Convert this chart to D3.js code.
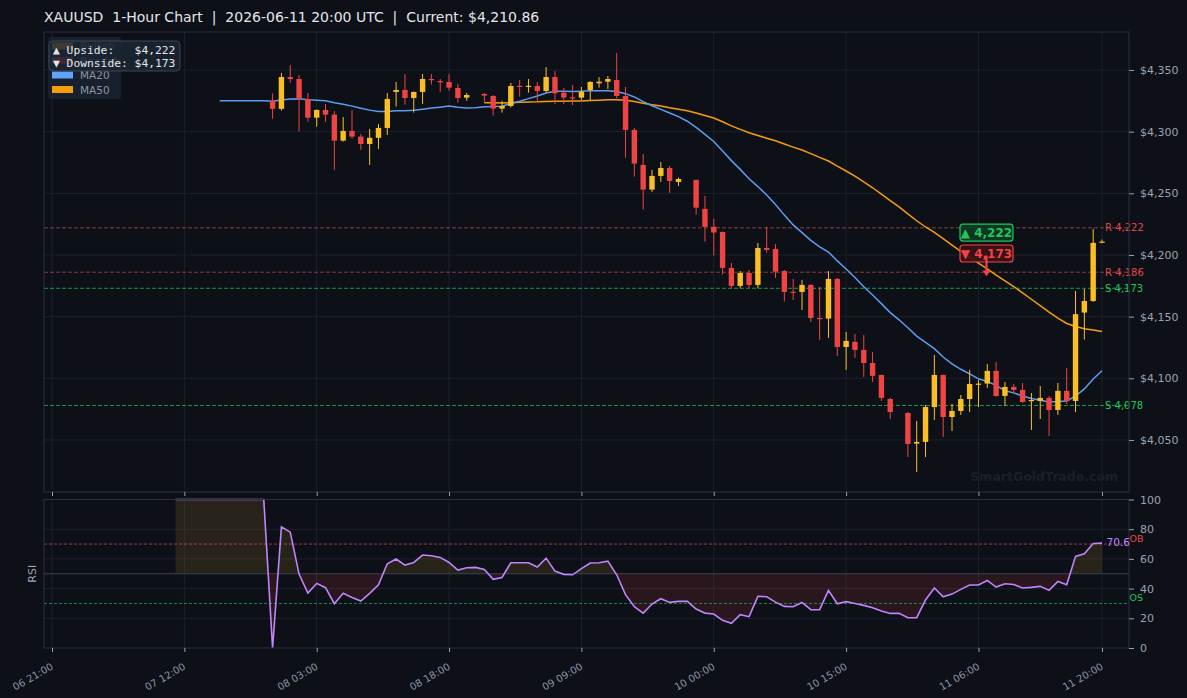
<!DOCTYPE html>
<html>
<head>
<meta charset="utf-8">
<script src="https://cdn.jsdelivr.net/npm/d3@7"></script>
<style>
    body { margin: 0; background: #0d1017; }
    text { font-family: "DejaVu Sans", sans-serif; }
</style>
</head>
<body>
<div id="canvas"></div>
<script>
"use strict"

/* Configuration variables: drawing */
let svgWidth = 1187;
let svgHeight = 698;

/* panel edges */
let leftEdge = 44
let rightEdge = 1129
let mainTop = 32
let mainBottom = 492
let rsiTop = 499.5
let rsiBottom = 648

/* first candle time, one candle per hour */
let startTime = "2026-06-06 21:00";

/* hourly candles: [open, high, low, close] (weekend + daily break are flat) */
let ohlc = [
    [4325, 4325, 4325, 4325], [4325, 4325, 4325, 4325], [4325, 4325, 4325, 4325],
    [4325, 4325, 4325, 4325], [4325, 4325, 4325, 4325], [4325, 4325, 4325, 4325],
    [4325, 4325, 4325, 4325], [4325, 4325, 4325, 4325], [4325, 4325, 4325, 4325],
    [4325, 4325, 4325, 4325], [4325, 4325, 4325, 4325], [4325, 4325, 4325, 4325],
    [4325, 4325, 4325, 4325], [4325, 4325, 4325, 4325], [4325, 4325, 4325, 4325],
    [4325, 4325, 4325, 4325], [4325, 4325, 4325, 4325], [4325, 4325, 4325, 4325],
    [4325, 4325, 4325, 4325], [4325, 4325, 4325, 4325], [4325, 4325, 4325, 4325],
    [4325, 4325, 4325, 4325], [4325, 4325, 4325, 4325], [4325, 4325, 4325, 4325],
    [4325, 4325, 4325, 4325],
    [4325, 4331, 4310.5, 4318.5],
    [4318.5, 4347.6, 4317, 4344.3],
    [4344.3, 4354, 4339.7, 4342.7],
    [4342.7, 4346, 4300, 4326.5],
    [4326.5, 4331.4, 4308, 4311.3],
    [4311.3, 4318, 4304, 4317.6],
    [4317.6, 4322.4, 4308, 4313.8],
    [4313.8, 4316.8, 4269, 4292.7],
    [4292.7, 4311.9, 4292, 4300.6],
    [4300.6, 4317.6, 4294.3, 4296],
    [4296, 4298, 4285.2, 4290],
    [4290, 4302.2, 4273, 4295],
    [4295, 4306.2, 4286, 4303],
    [4303, 4331.4, 4297.3, 4326.5],
    [4332.2, 4340.3, 4320.3, 4333.8],
    [4333.8, 4346.8, 4322, 4327.3],
    [4327.3, 4332.5, 4315.4, 4332.2],
    [4332.2, 4346.8, 4322.4, 4342.7],
    [4342.7, 4346.8, 4338.1, 4342.1],
    [4341, 4342.7, 4332.2, 4340.5],
    [4340.3, 4346.8, 4333.2, 4335.7],
    [4335.4, 4338.7, 4323.5, 4327.3],
    [4327.6, 4331.4, 4325, 4329.7],
    [4329.7, 4329.7, 4329.7, 4329.7],
    [4330.5, 4331.4, 4323.5, 4329.2],
    [4328.9, 4329.7, 4313, 4318.7],
    [4318.7, 4324.9, 4315.4, 4320.8],
    [4320.8, 4339.5, 4319.5, 4337],
    [4337.2, 4341.9, 4328.4, 4336.9],
    [4336.9, 4342.7, 4331.6, 4337.2],
    [4337, 4340.3, 4324.3, 4333],
    [4333, 4352.4, 4331.9, 4344.3],
    [4344.3, 4349.2, 4322.4, 4331.1],
    [4331.6, 4335.4, 4322.4, 4327.6],
    [4327.8, 4337.8, 4321.6, 4327.5],
    [4327.6, 4336.2, 4325.7, 4332.4],
    [4333.8, 4341, 4325.7, 4340.3],
    [4339.2, 4344.3, 4335.7, 4340.5],
    [4340.5, 4345.1, 4334.6, 4342.7],
    [4341.9, 4363.8, 4327, 4328.9],
    [4328.9, 4336.2, 4278.9, 4301.4],
    [4301.4, 4303, 4263.5, 4274.1],
    [4273, 4281.9, 4236.8, 4253],
    [4253, 4269, 4251.1, 4264.1],
    [4264.1, 4275.4, 4259.2, 4270.5],
    [4270.5, 4272.2, 4250.3, 4260],
    [4259.2, 4262.7, 4256, 4261.6],
    [4261.6, 4261.6, 4261.6, 4261.6],
    [4260.9, 4261, 4232.7, 4238.4],
    [4237.4, 4247.9, 4210.9, 4222.8],
    [4222.8, 4229.3, 4199.5, 4218.2],
    [4218.6, 4219, 4184.1, 4189.5],
    [4189.5, 4193.6, 4173, 4174.9],
    [4174.9, 4187, 4173, 4185.4],
    [4185.4, 4187.8, 4173, 4175.7],
    [4175.7, 4209.7, 4173, 4205.7],
    [4205.7, 4222.8, 4201.7, 4204.1],
    [4204.9, 4208.9, 4181.4, 4186.5],
    [4187, 4187.8, 4162.2, 4170],
    [4170.2, 4180.6, 4163.5, 4170],
    [4170, 4179.8, 4155.4, 4175.7],
    [4175.7, 4176.5, 4145.7, 4148.9],
    [4148.9, 4174.1, 4131.1, 4148.4],
    [4148.4, 4187, 4132.7, 4180.6],
    [4180.6, 4181.4, 4118.1, 4125.4],
    [4125.4, 4137.6, 4106.8, 4130.3],
    [4129.5, 4136, 4116.5, 4123],
    [4123, 4135.2, 4101.1, 4112.4],
    [4112.4, 4121.4, 4097.1, 4102],
    [4102.7, 4103, 4081.6, 4084.1],
    [4083.2, 4084.1, 4067, 4072.7],
    [4072.7, 4072.7, 4072.7, 4072.7],
    [4071.9, 4072.7, 4036.2, 4046.8],
    [4047, 4065.4, 4024, 4048.4],
    [4048.4, 4078.4, 4036.2, 4076.7],
    [4076.7, 4118.9, 4066.2, 4102.7],
    [4102.7, 4103, 4052.4, 4068.6],
    [4068.6, 4079.2, 4057.3, 4073.5],
    [4073.5, 4086.5, 4070.3, 4083.2],
    [4083.2, 4106.8, 4072.7, 4095.4],
    [4094.9, 4098.6, 4076.7, 4095.7],
    [4095.7, 4111.7, 4092.2, 4106],
    [4106, 4113.3, 4085, 4085.7],
    [4085.7, 4097, 4077.5, 4093],
    [4093, 4095.4, 4087.3, 4090.6],
    [4090.6, 4096.2, 4080, 4080.8],
    [4081.4, 4088.1, 4058.1, 4082.4],
    [4081.6, 4093.8, 4067, 4084.1],
    [4084.1, 4085.7, 4053.2, 4074.3],
    [4074.3, 4096.2, 4070.3, 4089.8],
    [4089.8, 4108.5, 4079.2, 4081.6],
    [4081.6, 4170.8, 4072.5, 4152],
    [4153.3, 4172.4, 4131.4, 4162.7],
    [4162.7, 4221.2, 4161.9, 4209.8],
    [4209.9, 4212.5, 4209.6, 4210.86]
];

/* RSI(14), one value per candle */
let rsiValues = [
    null, null, null, null, null, null, null, null, null, null, null, null, null, null,
    100, 100, 100, 100, 100, 100, 100, 100, 100, 100, 100,
    0, 81.6, 78, 49.8, 37, 43.5, 40.6, 29.8, 36.8, 34,
    31.6, 36.8, 42.6, 56.7, 59.9, 55.8, 57.6, 62.6, 62.1, 61,
    57.6, 52.5, 54, 54.3, 52.9, 46.2, 47.5, 57.4, 57.4, 57.4,
    54.5, 60.5, 51.8, 49.6, 49.3, 53.4, 57.2, 57.4, 58.5, 49.3,
    35.9, 27.8, 23.5, 29.6, 33.2, 30.7, 31.4, 31.4, 26.2, 23.5,
    22.9, 18.6, 16.6, 22.4, 21.1, 34.8, 34.5, 30.9, 28, 27.8,
    30.7, 25.8, 25.8, 38.8, 29.8, 31.2, 30, 28.7, 27.1, 24.9,
    23.3, 23.3, 20.4, 20.4, 32.3, 40.4, 34.5, 36.3, 39.5, 42.4,
    42.4, 45.5, 41, 43.3, 42.8, 40.4, 40.8, 41.5, 38.8, 44.8,
    42.6, 61.7, 63.5, 70.4, 70.6
];

/* support / resistance levels */
let levels = [
    { label: "R 4,222", value: 4222, kind: "R" },
    { label: "R 4,186", value: 4186, kind: "R" },
    { label: "S 4,173", value: 4173, kind: "S" },
    { label: "S 4,078", value: 4078, kind: "S" }
];

/* tick labels */
let timeTicks = ["2026-06-06 21:00", "2026-06-07 12:00", "2026-06-08 03:00", "2026-06-08 18:00",
    "2026-06-09 09:00", "2026-06-10 00:00", "2026-06-10 15:00", "2026-06-11 06:00", "2026-06-11 20:00"];
let priceTicks = [4050, 4100, 4150, 4200, 4250, 4300, 4350];
let rsiTicks = [0, 20, 40, 60, 80, 100];

/* legend entries */
let legendItems = [
    { label: "Bullish", color: "#fbbf24" },
    { label: "Bearish", color: "#ef4444" },
    { label: "MA20", color: "#60a5fa" },
    { label: "MA50", color: "#f59e0b" }
];

let titleText = "XAUUSD  1-Hour Chart  |  2026-06-11 20:00 UTC  |  Current: $4,210.86";
let upside = 4222;
let downside = 4173;

/* colours */
let bullColor = "#fbbf24";
let bearColor = "#ef4444";
let ma20Color = "#5b9ef0";
let ma50Color = "#f59e0b";
let rsiColor = "#c084fc";
let gridColor = "#1c222c";
let spineColor = "#283142";
let tickColor = "#9aa3b0";

let parseTime = d3.utcParse("%Y-%m-%d %H:%M");
let t0 = parseTime(startTime);

let dataset = ohlc.map(function(d, i) {
    return {
        time: d3.utcHour.offset(t0, i),
        open: d[0], high: d[1], low: d[2], close: d[3],
        rsi: rsiValues[i]
    };
});

/* moving averages of the closes */
function movingAverage(n) {
    return dataset.map(function(d, i) {
        if (i < n - 1) return null;
        return d3.mean(dataset.slice(i - n + 1, i + 1), function(e) { return e.close });
    });
}
let ma20 = movingAverage(20);
let ma50 = movingAverage(50);

/* Create drawing canvas */
let svg = d3.select("#canvas")
    .append("svg")
    .attr("width", svgWidth)
    .attr("height", svgHeight)
    .style("background", "#0d1017");

/* Scales */
let hour = 3600 * 1000;
let xScale = d3.scaleUtc()
    .domain([new Date(+t0 - 0.907 * hour), new Date(+t0 + 122.06 * hour)])
    .range([leftEdge, rightEdge]);

let yScale = d3.scaleLinear()
    .domain([4007.8, 4380.8])
    .range([mainBottom, mainTop]);

let rsiScale = d3.scaleLinear()
    .domain([0, 100])
    .range([rsiBottom, rsiTop]);

let tickTimes = timeTicks.map(parseTime);
let candleWidth = 5.4;

/* grid lines */
function drawGrid(top, bottom) {
    svg.append("g")
        .selectAll("line")
        .data(tickTimes)
        .join("line")
        .attr("x1", function(d) { return xScale(d) })
        .attr("x2", function(d) { return xScale(d) })
        .attr("y1", top)
        .attr("y2", bottom)
        .attr("stroke", gridColor);
}
drawGrid(mainTop, mainBottom);
drawGrid(rsiTop, rsiBottom);

svg.append("g")
    .selectAll("line")
    .data(priceTicks)
    .join("line")
    .attr("x1", leftEdge)
    .attr("x2", rightEdge)
    .attr("y1", function(d) { return yScale(d) })
    .attr("y2", function(d) { return yScale(d) })
    .attr("stroke", gridColor);

svg.append("g")
    .selectAll("line")
    .data([20, 40, 60, 80])
    .join("line")
    .attr("x1", leftEdge)
    .attr("x2", rightEdge)
    .attr("y1", function(d) { return rsiScale(d) })
    .attr("y2", function(d) { return rsiScale(d) })
    .attr("stroke", gridColor);

/* watermark */
svg.append("text")
    .attr("x", 1118)
    .attr("y", 481)
    .attr("text-anchor", "end")
    .attr("font-size", 12.5)
    .attr("font-weight", "bold")
    .attr("fill", "#1a2029")
    .text("SmartGoldTrade.com");

/* support / resistance lines */
svg.append("g")
    .selectAll("line")
    .data(levels)
    .join("line")
    .attr("x1", leftEdge)
    .attr("x2", rightEdge)
    .attr("y1", function(d) { return yScale(d.value) })
    .attr("y2", function(d) { return yScale(d.value) })
    .attr("stroke", function(d) { return d.kind === "R" ? "#e05a5a" : "#22c55e" })
    .attr("stroke-opacity", function(d) { return d.kind === "R" ? 0.6 : 0.75 })
    .attr("stroke-dasharray", "4,2");

/* MA lines */
let maLine = d3.line()
    .defined(function(d) { return d.v !== null })
    .x(function(d) { return xScale(d.time) })
    .y(function(d) { return yScale(d.v) });

svg.append("path")
    .datum(dataset.map(function(d, i) { return { time: d.time, v: ma50[i] } }))
    .attr("d", maLine)
    .attr("fill", "none")
    .attr("stroke", ma50Color)
    .attr("stroke-width", 1.5);

svg.append("path")
    .datum(dataset.map(function(d, i) { return { time: d.time, v: ma20[i] } }))
    .attr("d", maLine)
    .attr("fill", "none")
    .attr("stroke", ma20Color)
    .attr("stroke-width", 1.5);

/* candles (flat candles are not drawn) */
let candles = svg.append("g")
    .selectAll("g")
    .data(dataset.filter(function(d) { return d.high > d.low }))
    .join("g");

candles.append("line")
    .attr("x1", function(d) { return xScale(d.time) })
    .attr("x2", function(d) { return xScale(d.time) })
    .attr("y1", function(d) { return yScale(d.high) })
    .attr("y2", function(d) { return yScale(d.low) })
    .attr("stroke", function(d) { return d.close >= d.open ? bullColor : bearColor })
    .attr("stroke-width", 1);

candles.append("rect")
    .attr("x", function(d) { return xScale(d.time) - candleWidth / 2 })
    .attr("width", candleWidth)
    .attr("y", function(d) { return yScale(Math.max(d.open, d.close)) })
    .attr("height", function(d) {
        return Math.max(1.2, Math.abs(yScale(d.open) - yScale(d.close)))
    })
    .attr("fill", function(d) { return d.close >= d.open ? bullColor : bearColor });

/* level labels */
svg.append("g")
    .selectAll("text")
    .data(levels)
    .join("text")
    .attr("x", 1105)
    .attr("y", function(d) { return yScale(d.value) + 3.5 })
    .attr("font-size", 10)
    .attr("fill", function(d) { return d.kind === "R" ? "#e04848" : "#22c55e" })
    .text(function(d) { return d.label });

/* upside / downside badges */
let badgeTime = dataset[106].time;
let badges = [
    { text: "\u25B2 " + d3.format(",")(upside), price: 4218.2, stroke: "#22c55e", fill: "#0e3b22" },
    { text: "\u25BC " + d3.format(",")(downside), price: 4201.2, stroke: "#ef4444", fill: "#3d1116" }
];

badges.forEach(function(d) {
    let cx = xScale(badgeTime) - 0.8;
    let cy = yScale(d.price);
    svg.append("rect")
        .attr("x", cx - 26.5)
        .attr("y", cy - 8.5)
        .attr("width", 53)
        .attr("height", 17)
        .attr("rx", 3)
        .attr("fill", d.fill)
        .attr("fill-opacity", 0.9)
        .attr("stroke", d.stroke)
        .attr("stroke-width", 1.2);
    svg.append("text")
        .attr("x", cx)
        .attr("y", cy + 4.5)
        .attr("text-anchor", "middle")
        .attr("font-size", 12)
        .attr("font-weight", "bold")
        .attr("fill", d.stroke)
        .text(d.text);
});

/* red arrow under the badges */
let arrowX = xScale(badgeTime) - 0.8;
svg.append("line")
    .attr("x1", arrowX)
    .attr("x2", arrowX)
    .attr("y1", yScale(4199.5))
    .attr("y2", yScale(4186))
    .attr("stroke", bearColor)
    .attr("stroke-width", 2.2);
svg.append("path")
    .attr("d", "M" + (arrowX - 4) + "," + yScale(4187.5) + " L" + (arrowX + 4) + "," + yScale(4187.5)
        + " L" + arrowX + "," + yScale(4182.8) + " Z")
    .attr("fill", bearColor);

/* RSI panel */
let rsiArea = d3.area()
    .defined(function(d) { return d.rsi !== null })
    .x(function(d) { return xScale(d.time) })
    .y0(rsiScale(50))
    .y1(function(d) { return rsiScale(d.rsi) });

let defs = svg.append("defs");
defs.append("clipPath").attr("id", "above")
    .append("rect")
    .attr("x", leftEdge).attr("y", rsiTop)
    .attr("width", rightEdge - leftEdge).attr("height", rsiScale(50) - rsiTop);
defs.append("clipPath").attr("id", "below")
    .append("rect")
    .attr("x", leftEdge).attr("y", rsiScale(50))
    .attr("width", rightEdge - leftEdge).attr("height", rsiBottom - rsiScale(50));

svg.append("path")
    .datum(dataset)
    .attr("d", rsiArea)
    .attr("clip-path", "url(#above)")
    .attr("fill", bullColor)
    .attr("fill-opacity", 0.11);

svg.append("path")
    .datum(dataset)
    .attr("d", rsiArea)
    .attr("clip-path", "url(#below)")
    .attr("fill", bearColor)
    .attr("fill-opacity", 0.13);

/* RSI reference lines */
svg.append("line")
    .attr("x1", leftEdge).attr("x2", rightEdge)
    .attr("y1", rsiScale(50)).attr("y2", rsiScale(50))
    .attr("stroke", "#3a4252");

svg.append("line")
    .attr("x1", leftEdge).attr("x2", rightEdge)
    .attr("y1", rsiScale(70)).attr("y2", rsiScale(70))
    .attr("stroke", "#e05a5a")
    .attr("stroke-opacity", 0.65)
    .attr("stroke-dasharray", "3,2");

svg.append("line")
    .attr("x1", leftEdge).attr("x2", rightEdge)
    .attr("y1", rsiScale(30)).attr("y2", rsiScale(30))
    .attr("stroke", "#22c55e")
    .attr("stroke-opacity", 0.65)
    .attr("stroke-dasharray", "3,2");

svg.append("path")
    .datum(dataset)
    .attr("d", d3.line()
        .defined(function(d) { return d.rsi !== null })
        .x(function(d) { return xScale(d.time) })
        .y(function(d) { return rsiScale(d.rsi) }))
    .attr("fill", "none")
    .attr("stroke", rsiColor)
    .attr("stroke-width", 1.6);

/* panel borders */
svg.append("rect")
    .attr("x", leftEdge).attr("y", mainTop)
    .attr("width", rightEdge - leftEdge).attr("height", mainBottom - mainTop)
    .attr("fill", "none").attr("stroke", spineColor);

svg.append("rect")
    .attr("x", leftEdge).attr("y", rsiTop)
    .attr("width", rightEdge - leftEdge).attr("height", rsiBottom - rsiTop)
    .attr("fill", "none").attr("stroke", spineColor);

/* axes */
function styleAxis(g) {
    g.select(".domain").remove();
    g.selectAll(".tick line").attr("stroke", tickColor);
    g.selectAll(".tick text")
        .attr("fill", tickColor)
        .style("font-family", "DejaVu Sans");
}

svg.append("g")
    .attr("transform", "translate(0," + mainBottom + ")")
    .call(d3.axisBottom(xScale).tickValues(tickTimes).tickFormat("").tickSize(4))
    .call(styleAxis);

let xAxis = svg.append("g")
    .attr("transform", "translate(0," + rsiBottom + ")")
    .call(d3.axisBottom(xScale).tickValues(tickTimes).tickFormat(d3.utcFormat("%d %H:%M")).tickSize(4))
    .call(styleAxis);

xAxis.selectAll(".tick text")
    .attr("font-size", 10)
    .attr("fill", "#8b95a5")
    .attr("text-anchor", "end")
    .attr("dy", null)
    .attr("y", 0)
    .attr("transform", "translate(1.5,20.5) rotate(-30)");

svg.append("g")
    .attr("transform", "translate(" + rightEdge + ",0)")
    .call(d3.axisRight(yScale).tickValues(priceTicks)
        .tickFormat(function(d) { return "$" + d3.format(",")(d) })
        .tickSize(5).tickPadding(6))
    .call(styleAxis)
    .selectAll(".tick text").attr("font-size", 11);

svg.append("g")
    .attr("transform", "translate(" + rightEdge + ",0)")
    .call(d3.axisRight(rsiScale).tickValues(rsiTicks).tickSize(5).tickPadding(6))
    .call(styleAxis)
    .selectAll(".tick text").attr("font-size", 11);

/* RSI labels */
svg.append("text")
    .attr("x", 1129.5)
    .attr("y", rsiScale(70) - 2)
    .attr("font-size", 9.5)
    .attr("fill", "#e04848")
    .text("OB");

svg.append("text")
    .attr("x", 1129.5)
    .attr("y", rsiScale(30) - 2)
    .attr("font-size", 9.5)
    .attr("fill", "#22c55e")
    .text("OS");

svg.append("text")
    .attr("x", 1130)
    .attr("y", rsiScale(rsiValues[rsiValues.length - 1]) + 3)
    .attr("text-anchor", "end")
    .attr("font-size", 10.5)
    .attr("fill", rsiColor)
    .text(d3.format(".1f")(rsiValues[rsiValues.length - 1]));

svg.append("text")
    .attr("transform", "translate(36," + rsiScale(50) + ") rotate(-90)")
    .attr("text-anchor", "middle")
    .attr("font-size", 11)
    .attr("fill", tickColor)
    .text("RSI");

/* legend */
svg.append("rect")
    .attr("x", 48).attr("y", 37)
    .attr("width", 73).attr("height", 62)
    .attr("rx", 3)
    .attr("fill", "#1a2230")
    .attr("fill-opacity", 0.9);

legendItems.forEach(function(d, i) {
    svg.append("rect")
        .attr("x", 52)
        .attr("y", 42.5 + i * 14.5)
        .attr("width", 21)
        .attr("height", 7)
        .attr("fill", d.color);
    svg.append("text")
        .attr("x", 80)
        .attr("y", 50 + i * 14.5)
        .attr("font-size", 10.5)
        .attr("fill", "#8c96a6")
        .text(d.label);
});

/* upside / downside box (sits over the top of the legend, as in the original) */
svg.append("rect")
    .attr("x", 49).attr("y", 41)
    .attr("width", 131).attr("height", 30)
    .attr("rx", 4)
    .attr("fill", "#1c2533")
    .attr("fill-opacity", 0.86)
    .attr("stroke", "#3a4658");

let boxLines = [
    "\u25B2 Upside:   $" + d3.format(",")(upside),
    "\u25BC Downside: $" + d3.format(",")(downside)
];
boxLines.forEach(function(d, i) {
    svg.append("text")
        .attr("x", 53)
        .attr("y", 54 + i * 13)
        .attr("font-size", 11.3)
        .style("font-family", "DejaVu Sans Mono")
        .style("white-space", "pre")
        .attr("fill", "#e2e6ec")
        .text(d);
});

/* title */
svg.append("text")
    .attr("x", 44)
    .attr("y", 21.5)
    .attr("font-size", 14)
    .attr("fill", "#e2e6ec")
    .style("white-space", "pre")
    .text(titleText);
</script>
</body>
</html>
